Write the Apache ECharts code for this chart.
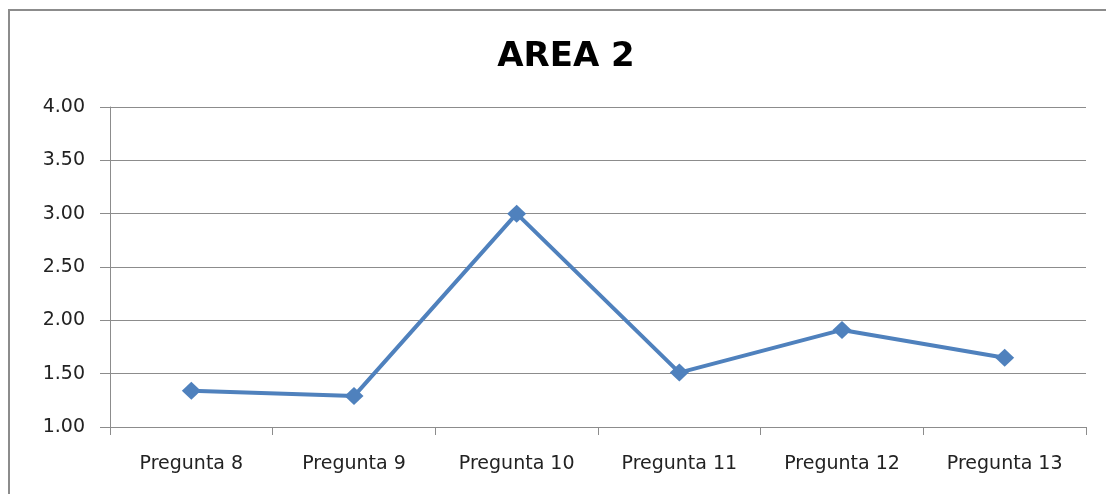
<!DOCTYPE html>
<html>
<head>
<meta charset="utf-8">
<script src="https://cdn.jsdelivr.net/npm/echarts@6/dist/echarts.min.js"></script>
<style>
html,body{margin:0;padding:0;background:#fff;}
#wrap{position:relative;width:1106px;height:494px;overflow:hidden;}
#frame{position:absolute;left:8px;top:9px;width:1200px;height:600px;border-top:2px solid #8c8c8c;border-left:2px solid #8c8c8c;box-sizing:border-box;}
#chart{position:absolute;left:0;top:0;width:1106px;height:494px;}
</style>
</head>
<body>
<div id="wrap">
<div id="frame"></div>
<div id="chart"></div>
</div>
<script>
const titleText = 'AREA 2';
const categories = ['Pregunta 8', 'Pregunta 9', 'Pregunta 10', 'Pregunta 11', 'Pregunta 12', 'Pregunta 13'];
const values = [1.34, 1.29, 3.00, 1.51, 1.91, 1.65];
const yMin = 1.0, yMax = 4.0, yStep = 0.5;

const chart = echarts.init(document.getElementById('chart'), null, {renderer: 'canvas'});
chart.setOption({
  backgroundColor: 'transparent',
  animation: false,
  title: {
    text: titleText,
    left: 561,
    top: 35,
    textAlign: 'center',
    textStyle: {fontFamily: 'DejaVu Sans', fontWeight: 'bold', fontSize: 34, color: '#000'}
  },
  grid: {left: 110, right: 20, top: 107, bottom: 67, containLabel: false},
  xAxis: {
    type: 'category',
    data: categories,
    boundaryGap: true,
    axisLine: {show: true, lineStyle: {color: '#8c8c8c', width: 1}},
    axisTick: {show: true, length: 8, alignWithLabel: false, lineStyle: {color: '#8c8c8c'}},
    axisLabel: {margin: 28, fontFamily: 'DejaVu Sans', fontSize: 19, color: '#222', interval: 0},
    splitLine: {show: false}
  },
  yAxis: {
    type: 'value',
    min: yMin, max: yMax, interval: yStep,
    axisLine: {show: true, lineStyle: {color: '#8c8c8c', width: 1}},
    axisTick: {show: true, length: 10, inside: false, lineStyle: {color: '#8c8c8c'}},
    axisLabel: {margin: 25, fontFamily: 'DejaVu Sans', fontSize: 19, color: '#222', formatter: v => v.toFixed(2)},
    splitLine: {show: true, lineStyle: {color: '#8c8c8c', width: 1}}
  },
  series: [{
    type: 'line',
    data: values,
    symbol: 'diamond',
    symbolSize: [19, 18],
    lineStyle: {color: '#4f81bd', width: 4},
    itemStyle: {color: '#4f81bd'},
    z: 3
  }]
});
</script>
</body>
</html>
